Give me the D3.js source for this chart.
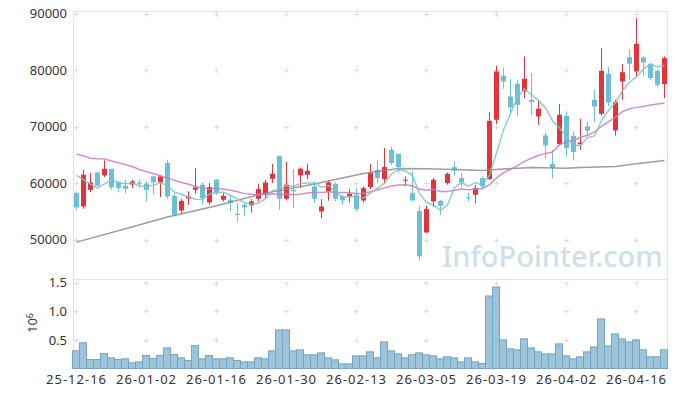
<!DOCTYPE html>
<html>
<head>
<meta charset="utf-8">
<script src="https://cdn.jsdelivr.net/npm/d3@7"></script>
<style>
body { margin: 0; background: #fff; }
text { font-family: "Noto Sans", sans-serif; }
</style>
</head>
<body>
<div id="svg-container"></div>
<script>
// Trading days (YY-MM-DD)
var dates = [
    "25-12-16","25-12-17","25-12-18","25-12-19","25-12-22","25-12-23","25-12-24","25-12-26","25-12-29","25-12-30",
    "26-01-02","26-01-05","26-01-06","26-01-07","26-01-08","26-01-09","26-01-12","26-01-13","26-01-14","26-01-15",
    "26-01-16","26-01-19","26-01-20","26-01-21","26-01-22","26-01-23","26-01-26","26-01-27","26-01-28","26-01-29",
    "26-01-30","26-02-02","26-02-03","26-02-04","26-02-05","26-02-06","26-02-09","26-02-10","26-02-11","26-02-12",
    "26-02-13","26-02-19","26-02-20","26-02-23","26-02-24","26-02-25","26-02-26","26-02-27","26-03-03","26-03-04",
    "26-03-05","26-03-06","26-03-09","26-03-10","26-03-11","26-03-12","26-03-13","26-03-16","26-03-17","26-03-18",
    "26-03-19","26-03-20","26-03-23","26-03-24","26-03-25","26-03-26","26-03-27","26-03-30","26-03-31","26-04-01",
    "26-04-02","26-04-03","26-04-06","26-04-07","26-04-08","26-04-09","26-04-10","26-04-13","26-04-14","26-04-15",
    "26-04-16","26-04-17","26-04-20","26-04-21","26-04-22"
];

var open = [
    58220,55860,58810,61880,61350,62530,60170,59520,59760,60110,
    59880,61180,60110,63540,57750,55150,57280,58810,59700,56570,
    60590,57040,57040,54560,56150,56040,57220,57930,60760,64840,
    57220,58810,61350,61470,59400,54970,58520,59880,57630,57630,
    57930,56920,59290,62360,60700,65900,65190,60470,58220,55090,
    51250,56750,56860,59990,62830,60880,57450,57930,60880,60700,
    71220,79010,75350,77600,76240,74760,71810,68440,63420,66900,
    71930,68380,66900,70030,74760,72280,79370,69330,78010,82320,
    79780,82260,81140,79900,77540
];
var high = [
    58520,62360,61770,61940,64010,62530,60290,60590,60590,60590,
    60290,61290,61290,64130,58220,57160,58520,62650,60110,59990,
    60700,58220,57930,56450,56570,57160,59880,60590,63420,64840,
    63720,62480,62770,63420,60290,57160,60470,60110,57930,58930,
    59110,59400,63360,64010,66200,66370,65190,61180,62060,55980,
    55980,60880,57040,61880,63830,61770,58220,59700,61170,72580,
    80790,80370,78420,78300,82440,79490,74760,68850,65900,73990,
    72690,69150,71390,70920,76530,83920,80550,74760,81080,83620,
    89230,82440,81260,80080,82440
];
var low = [
    55150,55450,58400,59400,61060,58810,58340,58220,59110,59110,
    56750,57930,57510,57220,54210,54560,56150,58100,56150,56150,
    57930,56750,54970,53200,54090,54800,56750,57340,59990,55270,
    56920,55560,59110,60700,56450,53790,56860,56750,56150,56570,
    54970,56570,58930,59990,59820,63240,61880,59520,56750,46290,
    51130,55740,54380,59700,61290,59290,56750,56450,58810,60580,
    70450,76710,72220,71920,75060,72100,70330,64420,60880,66790,
    64720,64010,65900,68260,70800,71980,73580,68440,74760,78300,
    78900,78900,78300,77000,75060
];
var close = [
    55680,61470,60110,59520,62530,59230,59110,58990,60290,59880,
    58810,60110,61180,57630,54380,56860,57630,59230,57340,59290,
    58220,57750,56450,54500,55680,56750,58930,60110,61650,57220,
    59700,58520,62530,62180,57220,55860,60110,57220,56920,58100,
    55390,59110,61770,60880,62830,63540,62830,60600,56920,47000,
    55390,60590,55980,61650,62240,60110,57340,59110,59400,71040,
    79780,78010,73400,73870,78480,74350,73170,66670,62650,72100,
    66200,65490,67200,69270,73580,79900,74290,74350,79660,81140,
    84680,81380,78600,77420,82140
];

// Trading volume (shares)
var volume = [
    310000,450000,157000,157000,260000,186000,157000,169000,99000,116000,
    227000,175000,227000,360000,244000,186000,140000,400000,169000,227000,
    169000,169000,186000,140000,116000,116000,186000,169000,308000,675000,
    675000,308000,326000,239000,239000,273000,186000,151000,81000,81000,
    221000,221000,291000,186000,465000,308000,256000,186000,239000,273000,
    239000,221000,169000,204000,186000,116000,186000,116000,87000,1268000,
    1425000,500000,343000,326000,518000,360000,291000,256000,256000,430000,
    221000,169000,204000,291000,378000,867000,396000,605000,518000,465000,
    500000,326000,204000,204000,326000
];

// Moving averages
var ma5 = [
    61350,60590,59820,59110,59860,60570,60100,59880,60030,59500,
    59420,59620,60050,59520,58420,58030,57540,57150,57090,58070,
    58340,58360,57810,57240,56520,56230,56460,57190,58620,58930,
    59520,59440,59920,60030,60030,59260,59580,58520,57470,57640,
    57550,57350,58260,59050,59990,61620,62370,62140,61340,58180,
    56550,56100,55170,56120,59170,60110,59460,60090,59640,61400,
    65330,69470,72330,75220,76710,75620,74650,73310,71060,69790,
    68160,66620,66730,68050,68350,71090,72850,74280,76360,77870,
    78820,80240,81090,80640,80840
];
var ma20 = [
    65130,64800,64420,64300,64250,63900,63600,63250,62900,62400,
    62000,61650,61300,60880,60500,60100,59800,59400,59110,58960,
    59090,58900,58720,58470,58130,58000,57990,58050,58120,57990,
    58030,57950,58020,58250,58390,58340,58460,58360,58340,58280,
    58140,58210,58470,58790,59150,59490,59680,59710,59470,58960,
    58750,58850,58520,58490,58750,58960,58820,58910,59040,59680,
    60900,61850,62430,63080,63860,64400,64920,65220,65510,66770,
    67310,67550,68110,68490,69060,70050,70900,71660,72670,73180,
    73420,73590,73850,74030,74210
];
// Long average, read at a few days only
var maLongDays = ["25-12-16","25-12-26","26-01-07","26-01-16","26-01-27","26-02-05","26-02-19","26-02-26",
                  "26-03-05","26-03-12","26-03-17","26-03-20","26-03-26","26-04-02","26-04-06","26-04-13",
                  "26-04-16","26-04-22"];
var maLong = [49540,51900,54000,56000,58220,59850,61700,62600,
              62550,62350,62240,62500,62770,62650,62770,62950,
              63420,64010];

var priceTicks = [50000, 60000, 70000, 80000, 90000];
var volumeTicks = [500000, 1000000, 1500000];
var dateTicks = ["25-12-16","26-01-02","26-01-16","26-01-30","26-02-13","26-03-05","26-03-19","26-04-02","26-04-16"];

// Configuration
var config = {
    width: 677,
    height: 397,
    left: 72.5,
    right: 667.5,
    priceTop: 279, priceBottom: 11,
    volBottom: 368.5, volTop: 279,
    upColor: "#e8323a",
    downColor: "#6bbfd6",
    volFill: "#86b5cf",
    volStroke: "#72a5c6",
    gridColor: "#dedede",
    borderColor: "#e3e3e3"
};

var x = d3.scaleBand().domain(dates).range([config.left, config.right]).padding(0);
var y = d3.scaleLinear().domain([43000, 90500]).range([config.priceTop, config.priceBottom]);
var yVol = d3.scaleLinear().domain([0, 1565000]).range([config.volBottom, config.volTop]);

var svg = d3.select("#svg-container")
    .append("svg")
    .attr("width", config.width)
    .attr("height", config.height);

// --------------------------------------------------
// Grid crosses and frame
// --------------------------------------------------

var crossYs = priceTicks.map(function(t) { return y(t); })
    .concat(volumeTicks.map(function(t) { return yVol(t); }));
var grid = svg.append("g");
dateTicks.forEach(function(d) {
    var cx = Math.round(x(d) + x.bandwidth() / 2) + 0.5;
    crossYs.forEach(function(cy) {
        cy = Math.round(cy) + 0.5;
        grid.append("path")
            .attr("d", "M" + (cx - 2.5) + "," + cy + "H" + (cx + 2.5) + "M" + cx + "," + (cy - 2.5) + "V" + (cy + 2.5))
            .attr("stroke", config.gridColor)
            .attr("stroke-width", 1);
    });
});

svg.append("path")
    .attr("d", "M73.5,369V11.5H667.5V369M73.5,279.5H667.5")
    .attr("fill", "none")
    .attr("stroke", config.borderColor)
    .attr("stroke-width", 1.2);

// Watermark
svg.append("text")
    .attr("x", 442)
    .attr("y", 267)
    .style("font-size", "29px")
    .style("font-weight", "500")
    .style("fill", "#cfdfe9")
    .text("InfoPointer.com");

// --------------------------------------------------
// Volume bars
// --------------------------------------------------

svg.append("g").selectAll("rect")
    .data(dates)
    .enter().append("rect")
    .attr("x", function(d) { return x(d); })
    .attr("width", x.bandwidth())
    .attr("y", function(d, i) { return yVol(volume[i]); })
    .attr("height", function(d, i) { return config.volBottom - yVol(volume[i]); })
    .attr("fill", config.volFill)
    .attr("fill-opacity", 0.8)
    .attr("stroke", config.volStroke)
    .attr("stroke-width", 1);

// --------------------------------------------------
// Candles
// --------------------------------------------------

var candle = svg.append("g").selectAll("g")
    .data(dates)
    .enter().append("g");

function candleColor(d, i) { return close[i] >= open[i] ? config.upColor : config.downColor; }

candle.append("line")
    .attr("x1", function(d) { return x(d) + 4; })
    .attr("x2", function(d) { return x(d) + 4; })
    .attr("y1", function(d, i) { return y(high[i]); })
    .attr("y2", function(d, i) { return y(low[i]); })
    .attr("stroke", candleColor)
    .attr("stroke-width", 1);

candle.append("rect")
    .attr("x", function(d) { return x(d) + 1.5; })
    .attr("width", 5)
    .attr("y", function(d, i) { return y(Math.max(open[i], close[i])); })
    .attr("height", function(d, i) { return Math.max(1, Math.abs(y(open[i]) - y(close[i]))); })
    .attr("fill", candleColor);

// --------------------------------------------------
// Moving averages
// --------------------------------------------------

function maLine(values, days) {
    return d3.line()
        .x(function(v, i) { return x(days[i]) + 4; })
        .y(function(v) { return y(v); })(values);
}

svg.append("path")
    .attr("d", maLine(maLong, maLongDays))
    .attr("fill", "none")
    .attr("stroke", "#8c8c8c")
    .attr("stroke-opacity", 0.85)
    .attr("stroke-width", 1.5);

svg.append("path")
    .attr("d", maLine(ma20, dates))
    .attr("fill", "none")
    .attr("stroke", "#c57dbf")
    .attr("stroke-opacity", 0.85)
    .attr("stroke-width", 1.5);

svg.append("path")
    .attr("d", maLine(ma5, dates))
    .attr("fill", "none")
    .attr("stroke", "#7cc4bf")
    .attr("stroke-opacity", 0.85)
    .attr("stroke-width", 1.5);

// --------------------------------------------------
// Axes
// --------------------------------------------------

function styleAxis(g) {
    g.select(".domain").remove();
    g.selectAll("text").style("font-size", "13px").style("fill", "#333");
}

svg.append("g")
    .attr("transform", "translate(73,0)")
    .call(d3.axisLeft(y).tickValues(priceTicks).tickSize(0).tickPadding(6).tickFormat(d3.format("d")))
    .call(styleAxis);

svg.append("g")
    .attr("transform", "translate(73,0)")
    .call(d3.axisLeft(yVol).tickValues(volumeTicks).tickSize(0).tickPadding(6)
          .tickFormat(function(v) { return (v / 1e6).toFixed(1); }))
    .call(styleAxis);

svg.append("g")
    .attr("transform", "translate(0,369)")
    .call(d3.axisBottom(x).tickValues(dateTicks).tickSize(0).tickPadding(6))
    .call(styleAxis)
    .selectAll("text")
    .attr("textLength", 60)
    .attr("lengthAdjust", "spacing");

// Volume unit label
var unit = svg.append("text")
    .attr("transform", "translate(37,323) rotate(-90)")
    .style("text-anchor", "middle")
    .style("font-size", "13px")
    .style("fill", "#333");
unit.append("tspan").text("10");
unit.append("tspan")
    .attr("dy", "-0.5em")
    .style("font-size", "9px")
    .text("6");
</script>
</body>
</html>
